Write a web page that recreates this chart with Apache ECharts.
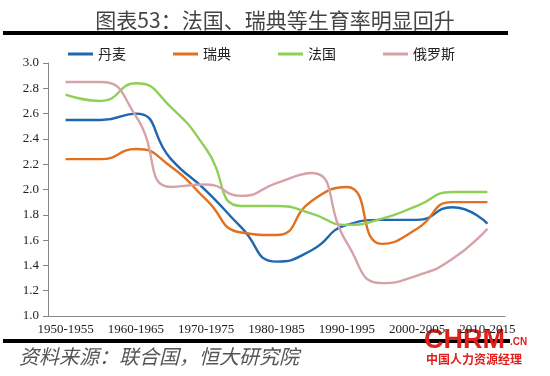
<!DOCTYPE html>
<html>
<head>
<meta charset="utf-8">
<script src="https://cdn.jsdelivr.net/npm/echarts@6/dist/echarts.min.js"></script>
<style>
  html, body { margin: 0; padding: 0; background: #fff; }
  #chart { width: 550px; height: 376px; }
</style>
</head>
<body>
<div id="chart"></div>
<script>
// 五年区间
var periods = ['1950-1955', '1955-1960', '1960-1965', '1965-1970', '1970-1975', '1975-1980',
    '1980-1985', '1985-1990', '1990-1995', '1995-2000', '2000-2005', '2005-2010', '2010-2015'];

var denmark = [2.55, 2.55, 2.60, 2.24, 1.99, 1.70, 1.43, 1.52, 1.72, 1.76, 1.76, 1.86, 1.73];
var sweden  = [2.24, 2.24, 2.32, 2.18, 1.92, 1.66, 1.64, 1.91, 2.02, 1.57, 1.69, 1.90, 1.90];
var france  = [2.75, 2.70, 2.84, 2.65, 2.32, 1.87, 1.87, 1.81, 1.72, 1.77, 1.87, 1.98, 1.98];
var russia  = [2.85, 2.85, 2.58, 2.02, 2.04, 1.95, 2.05, 2.13, 1.58, 1.26, 1.32, 1.45, 1.69];

var names = ['丹麦', '瑞典', '法国', '俄罗斯'];
var colors = ['#1F67AE', '#E2701F', '#8FCF55', '#D6A2A8'];

var chart = echarts.init(document.getElementById('chart'));

function makeLine(name, data, color) {
    return {
        name: name,
        type: 'line',
        data: data,
        smooth: 0.55,
        symbol: 'none',
        lineStyle: { width: 2.4, color: color },
        itemStyle: { color: color }
    };
}

var serif = '"Liberation Serif", "DejaVu Serif", serif';

var option = {
    animation: false,
    title: {
        text: '图表53：法国、瑞典等生育率明显回升',
        left: 'center',
        top: 5,
        textStyle: { fontFamily: '"Noto Sans CJK SC"', fontWeight: 'normal', fontSize: 21, color: '#444' }
    },
    legend: {
        left: 63,
        top: 42,
        itemWidth: 25,
        itemHeight: 3,
        itemGap: 47,
        icon: 'rect',
        textStyle: { fontFamily: '"Noto Sans CJK SC"', fontSize: 14, color: '#222' },
        data: names
    },
    grid: { left: 48, right: 45, top: 63, bottom: 60 },
    xAxis: {
        type: 'category',
        data: periods,
        boundaryGap: true,
        axisLine: { lineStyle: { color: '#888' } },
        axisTick: { interval: 0, length: 5, lineStyle: { color: '#888' } },
        axisLabel: { interval: 1, margin: 7, fontFamily: serif, fontSize: 13, color: '#222' }
    },
    yAxis: {
        type: 'value',
        min: 1,
        max: 3,
        interval: 0.2,
        splitLine: { show: false },
        axisLine: { show: true, lineStyle: { color: '#888' } },
        axisTick: { show: true, length: 5, lineStyle: { color: '#888' } },
        axisLabel: {
            margin: 9, fontFamily: serif, fontSize: 13, color: '#222',
            formatter: function (v) { return v.toFixed(1); }
        }
    },
    series: [
        makeLine(names[0], denmark, colors[0]),
        makeLine(names[1], sweden, colors[1]),
        makeLine(names[2], france, colors[2]),
        makeLine(names[3], russia, colors[3])
    ],
    graphic: [
        { type: 'rect', shape: { x: 3, y: 31, width: 505, height: 4 }, style: { fill: '#000' } },
        { type: 'rect', shape: { x: 3, y: 339, width: 507, height: 4 }, style: { fill: '#000' } },
        {
            type: 'text', left: 19, top: 346,
            style: { text: '资料来源：联合国，恒大研究院', font: 'italic 20px "Noto Sans CJK SC"', fill: '#555' }
        },
        {
            type: 'text', left: 424, top: 327,
            style: { text: 'CHRM', font: 'bold 27px "Liberation Sans", sans-serif', fill: '#E0201B' }
        },
        {
            type: 'text', left: 510, top: 337,
            style: { text: '.CN', font: 'bold 10px "Liberation Sans", sans-serif', fill: '#E0201B' }
        },
        {
            type: 'text', left: 426, top: 353,
            style: { text: '中国人力资源经理', font: 'bold 12px "Noto Sans CJK SC"', fill: '#E0201B' }
        }
    ]
};

chart.setOption(option);
</script>
</body>
</html>
